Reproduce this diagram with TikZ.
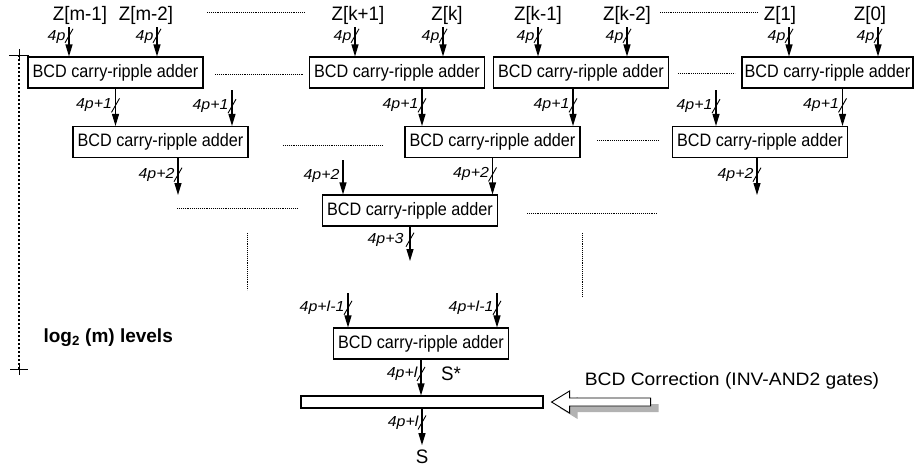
\documentclass[tikz,border=0pt]{standalone}
\usepackage{fontspec}
\setmainfont{Liberation Sans}
\newfontfamily\boxfont{Liberation Sans}[FakeStretch=0.9]
\newfontfamily\zfont{Liberation Sans}[FakeStretch=0.96]
\newfontfamily\widefont{Liberation Sans}[FakeStretch=1.07]
\newfontfamily\lblfont{Liberation Sans}[FakeStretch=1.1]
\usetikzlibrary{positioning, arrows.meta}

\begin{document}
\begin{tikzpicture}[
  x=1pt, y=-1pt,
  adder/.style={draw, line width=1.1pt, minimum width=175, minimum height=31,
                inner sep=0pt, font=\boxfont\fontsize{18}{21}\selectfont},
  corrbox/.style={draw, line width=1.1pt, minimum width=242, minimum height=12,
                  inner sep=0pt},
  zlbl/.style={font=\zfont\fontsize{19.5}{22}\selectfont, inner sep=0pt, anchor=base},
  wlbl/.style={font=\lblfont\fontsize{14.5}{17}\selectfont\itshape, inner sep=1pt, left=2pt},
  arr/.style={-{Triangle[length=12pt, width=7pt]}, line width=1.1pt},
  sep/.style={densely dotted, line width=0.9pt},
  busmark/.pic={\draw[-, line width=0.9pt] (-4,7) -- (4,-7);}
]
\useasboundingbox (0,0) rectangle (915,472);

% Operands
\node[zlbl] (zm1) at (80,20) {Z[m-1]};
\node[zlbl] (zm2) at (146,20) {Z[m-2]};
\node[zlbl] (zk1) at (358,20) {Z[k+1]};
\node[zlbl] (zk) at (447,20) {Z[k]};
\node[zlbl] (zkm1) at (538,20) {Z[k-1]};
\node[zlbl] (zkm2) at (627,20) {Z[k-2]};
\node[zlbl] (z1) at (780,20) {Z[1]};
\node[zlbl] (z0) at (870,20) {Z[0]};

% First level
\node[adder] (add11) at (115.5,72.5) {BCD carry-ripple adder};
\node[adder] (add12) at (397,72.5) {BCD carry-ripple adder};
\node[adder] (add13) at (581,72.5) {BCD carry-ripple adder};
\node[adder, minimum width=171] (add14) at (827.5,72.5) {BCD carry-ripple adder};

% Second level
\node[adder] (add21) at (160.5,142) {BCD carry-ripple adder};
\node[adder] (add22) at (492.5,142) {BCD carry-ripple adder};
\node[adder] (add23) at (760,142) {BCD carry-ripple adder};

% Third level
\node[adder] (add31) at (410,210.5) {BCD carry-ripple adder};

% Last level and correction
\node[adder] (add41) at (421,343.5) {BCD carry-ripple adder};
\node[corrbox] (corr) at (422,402) {};
\node[zlbl] (sstar) at (451,380) {S*};
\node[zlbl, inner sep=4pt] (sout) at (422,463) {S};
\node[zlbl, font=\widefont\fontsize{18}{22}\selectfont]
  (corrlbl) at (732,385) {BCD Correction (INV-AND2 gates)};

% Levels
\node[font=\fontsize{19}{22}\selectfont\bfseries, anchor=base west]
  (lvl) at (40,342) {log\textsubscript{2} (m) levels};
\coordinate (lvtop) at (19,55);
\coordinate (lvbot) at (19,369);

% Free ends
\coordinate (i1) at (69,27);
\coordinate (i2) at (157,27);
\coordinate (i3) at (355,27);
\coordinate (i4) at (443,27);
\coordinate (i5) at (538,27);
\coordinate (i6) at (627,27);
\coordinate (i7) at (789,27);
\coordinate (i8) at (878,27);
\coordinate (f1) at (232,90);
\coordinate (f2) at (716,90);
\coordinate (f3) at (343,160);
\coordinate (f4) at (348,293);
\coordinate (f5) at (497,293);
\coordinate (e21) at (178,195);
\coordinate (e23) at (757,195);
\coordinate (e31) at (410,261);
\coordinate (o12) at ([xshift=25]add12.south);
\coordinate (o13) at ([xshift=-8]add13.south);
\coordinate (o14) at ([xshift=15]add14.south);

% Arrows into first level
\draw[arr] (i1) -- (i1 |- add11.north) pic[pos=.3]{busmark} node[wlbl, pos=.33]{4p};
\draw[arr] (i2) -- (i2 |- add11.north) pic[pos=.3]{busmark} node[wlbl, pos=.33]{4p};
\draw[arr] (i3) -- (i3 |- add12.north) pic[pos=.3]{busmark} node[wlbl, pos=.33]{4p};
\draw[arr] (i4) -- (i4 |- add12.north) pic[pos=.3]{busmark} node[wlbl, pos=.33]{4p};
\draw[arr] (i5) -- (i5 |- add13.north) pic[pos=.3]{busmark} node[wlbl, pos=.33]{4p};
\draw[arr] (i6) -- (i6 |- add13.north) pic[pos=.3]{busmark} node[wlbl, pos=.33]{4p};
\draw[arr] (i7) -- (i7 |- add14.north) pic[pos=.3]{busmark} node[wlbl, pos=.33]{4p};
\draw[arr] (i8) -- (i8 |- add14.north) pic[pos=.3]{busmark} node[wlbl, pos=.33]{4p};

% Arrows into second level
\draw[arr] (add11.south) -- (add11.south |- add21.north)
  pic[pos=.45]{busmark} node[wlbl, pos=.45]{4p+1};
\draw[arr] (f1) -- (f1 |- add21.north) pic[pos=.45]{busmark} node[wlbl, pos=.45]{4p+1};
\draw[arr] (o12) -- (o12 |- add22.north) pic[pos=.45]{busmark} node[wlbl, pos=.45]{4p+1};
\draw[arr] (o13) -- (o13 |- add22.north) pic[pos=.45]{busmark} node[wlbl, pos=.45]{4p+1};
\draw[arr] (f2) -- (f2 |- add23.north) pic[pos=.45]{busmark} node[wlbl, pos=.45]{4p+1};
\draw[arr] (o14) -- (o14 |- add23.north) pic[pos=.45]{busmark} node[wlbl, pos=.45]{4p+1};

% Arrows into third level
\draw[arr] (add21.south -| e21) -- (e21) pic[pos=.45]{busmark} node[wlbl, pos=.45]{4p+2};
\draw[arr] (f3) -- (f3 |- add31.north) node[wlbl, pos=.45]{4p+2};
\draw[arr] (add22.south) -- (add22.south |- add31.north)
  pic[pos=.45]{busmark} node[wlbl, pos=.45]{4p+2};
\draw[arr] (add23.south -| e23) -- (e23) pic[pos=.45]{busmark} node[wlbl, pos=.45]{4p+2};
\draw[arr] (add31.south) -- (e31) pic[pos=.38]{busmark} node[wlbl, pos=.4, left=5pt]{4p+3};

% Last level
\draw[arr] (f4) -- (f4 |- add41.north) pic[pos=.43]{busmark} node[wlbl, pos=.43]{4p+l-1};
\draw[arr] (f5) -- (f5 |- add41.north) pic[pos=.43]{busmark} node[wlbl, pos=.43]{4p+l-1};
\draw[arr] (add41.south) -- (add41.south |- corr.north)
  pic[pos=.4]{busmark} node[wlbl, pos=.4]{4p+l};
\draw[arr] (corr.south) -- (sout.north) pic[pos=.38]{busmark} node[wlbl, pos=.38]{4p+l};

% Correction input arrow
\coordinate (tip) at ([xshift=8]corr.east);
\fill[gray!60] ([shift={(8,6)}]tip) -- ++(18,-11) -- ++(0,7) -- ++(81,0)
  -- ++(0,8) -- ++(-81,0) -- ++(0,7) -- cycle;
\draw[line width=0.9pt, fill=white] (tip) -- ++(18,-11) -- ++(0,7) -- ++(81,0)
  -- ++(0,8) -- ++(-81,0) -- ++(0,7) -- cycle;

% Level marker
\draw[line width=1.2pt, dash pattern=on 2pt off 2pt] (lvtop) -- (lvbot);
\draw[line width=1pt] ([xshift=-10]lvtop) -- ([xshift=10]lvtop)
  ([yshift=-6]lvtop) -- ([yshift=6]lvtop);
\draw[line width=1pt] ([xshift=-9]lvbot) -- ([xshift=9]lvbot)
  ([yshift=-6]lvbot) -- ([yshift=6]lvbot);

% Dots
\draw[sep] (207,12) -- (305,12);
\draw[sep] (660,12) -- (757,12);
\draw[sep] (215,74) -- (303,74);
\draw[sep] (678,73) -- (735,73);
\draw[sep] (283,145) -- (383,145);
\draw[sep] (597,140) -- (659,140);
\draw[sep] (177,208) -- (298,208);
\draw[sep] (527,213) -- (657,213);
\draw[sep] (247,233) -- (247,290);
\draw[sep] (582,233) -- (582,296);

\end{tikzpicture}
\end{document}
